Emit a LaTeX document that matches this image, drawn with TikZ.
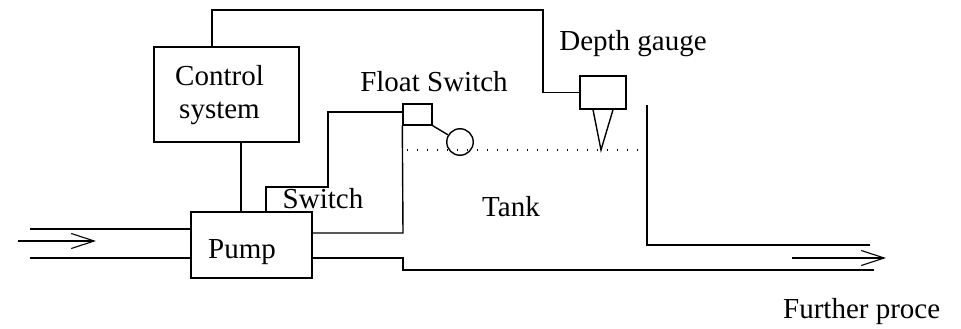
\documentclass[tikz,border=0pt]{standalone}
\usepackage{fontspec}
\setmainfont{Liberation Serif}
\usetikzlibrary{arrows.meta,calc}
\begin{document}
\begin{tikzpicture}[x=1pt,y=-1pt,
  wire/.style={line width=1.4pt},
  box/.style={draw,line width=1.4pt,inner sep=0pt,rectangle},
  lbl/.style={anchor=base,inner sep=0pt,font=\fontsize{29}{33}\selectfont},
  flow/.style={line width=1.1pt,-{Straight Barb[length=23pt,width=15pt,line width=1.1pt]}},
  level/.style={line width=1.4pt,dash pattern=on 1.4pt off 8.6pt}]
\useasboundingbox (0,0) rectangle (961,329);
% boxes
\node[box,minimum width=145pt,minimum height=95pt] (ctrl) at (226.5,94.5) {};
\node[box,minimum width=121pt,minimum height=66pt] (pump) at (251.5,245) {};
\node[box,minimum width=29pt,minimum height=21pt] (float) at (417.5,114.5) {};
\node[draw,circle,line width=1.4pt,minimum size=26.5pt,inner sep=0pt] (ball) at (460,142) {};
\node[box,minimum width=46pt,minimum height=33pt] (gauge) at (603,92.5) {};
% coordinates
\coordinate (ctop) at ($(ctrl.north west)!0.4!(ctrl.north east)$);
\coordinate (g1) at (543,10);
\coordinate (cbot) at ($(ctrl.south west)!0.6!(ctrl.south east)$);
\coordinate (ptop) at ($(pump.north west)!0.62!(pump.north east)$);
\coordinate (s1) at (328,187);
\coordinate (s2) at (328,112);
\coordinate (pr1) at (312,233);
\coordinate (fl1) at (403,233);
\coordinate (pr2) at (312,258);
\coordinate (o1) at (403,258);
\coordinate (o2) at (403,270);
\coordinate (o3) at (874,270);
\coordinate (in1a) at (30,229);
\coordinate (in1b) at (191,229);
\coordinate (in2a) at (30,258);
\coordinate (in2b) at (191,258);
\coordinate (ia) at (18,241);
\coordinate (ib) at (96,241);
\coordinate (oa) at (792,258);
\coordinate (ob) at (886,258);
\coordinate (t1) at (647,105);
\coordinate (t2) at (647,245);
\coordinate (t3) at (870,245);
\coordinate (w1) at (407,150);
\coordinate (w2) at (647,150);
\coordinate (tip) at (601,150);
% wires
\draw[wire] (ctop) |- (g1) |- (gauge.west);
\draw[wire] (cbot) -- (cbot |- pump.north);
\draw[wire] (ptop) |- (s1) -- (s2) -- (s2 -| float.west);
\draw[wire] (float.south west) -- (fl1) -- (pr1);
\draw[wire] (float.south east) -- (ball);
\draw[wire] ([xshift=-10pt]gauge.south) -- (tip) -- ([xshift=10pt]gauge.south);
% pipes
\draw[wire] (in1a) -- (in1b);
\draw[wire] (in2a) -- (in2b);
\draw[wire] (pr2) -- (o1) -- (o2) -- (o3);
\draw[wire] (t1) -- (t2) -- (t3);
\draw[level] (w1) -- (w2);
\draw[flow] (ia) -- (ib);
\draw[flow] (oa) -- (ob);
% labels
\node[lbl,align=center] (ctrllbl) at (219.5,118) {Control\\system};
\node[lbl] (pumplbl) at (242,258) {Pump};
\node[lbl] (swlbl) at (323,208) {Switch};
\node[lbl] (fllbl) at (434,92) {Float Switch};
\node[lbl] (dglbl) at (633,51) {Depth gauge};
\node[lbl] (tanklbl) at (511,216) {Tank};
\node[lbl,anchor=base west] (furtherlbl) at (783,318) {Further proce};
\end{tikzpicture}
\end{document}
